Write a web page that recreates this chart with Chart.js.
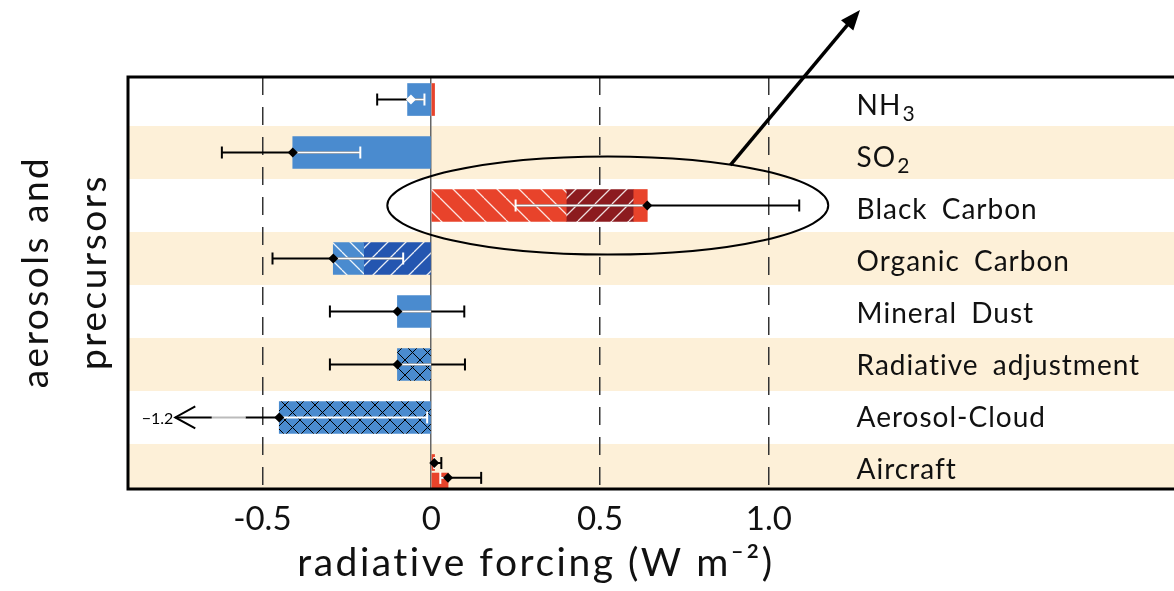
<!DOCTYPE html>
<html>
<head>
<meta charset="utf-8">
<script src="https://cdn.jsdelivr.net/npm/chart.js@4.4.1/dist/chart.umd.min.js"></script>
<style>
  html, body { margin: 0; padding: 0; background: #fff; }
  #wrap { width: 1174px; height: 591px; position: relative; }
</style>
</head>
<body>
<div id="wrap"><canvas id="chart"></canvas></div>
<script>
// rows, top to bottom ("_" marks a subscript)
const categories = ['NH_3', 'SO_2', 'Black Carbon', 'Organic Carbon', 'Mineral Dust', 'Radiative adjustment', 'Aerosol-Cloud', 'Aircraft'];
const xTicks = [-0.5, 0, 0.5, 1.0];
const xTickLabels = ['-0.5', '0', '0.5', '1.0'];
const xTitle = 'radiative forcing (W m\u207B\u00B2)';
const yTitle = ['aerosols and', 'precursors'];

// bar segments as [row position, from, to]  (W m-2)
const solidBlue = [[0, -0.07, 0], [1, -0.41, 0], [4, -0.10, 0]];
const solidRed = [[0, 0, 0.01], [2, 0.60, 0.64]];
const bcLight = [[2, 0, 0.40]];
const bcDark = [[2, 0.40, 0.60]];
const ocLight = [[3, -0.29, -0.20]];
const ocDark = [[3, -0.20, 0]];
const crossBlue = [[5, -0.10, 0], [6, -0.45, 0]];
const aircraftBars = [[6.85, 0, 0.01], [7.2, 0, 0.05]];

// uncertainty ranges: position, best estimate, low, high
const errPos = [0, 1, 2, 3, 4, 5, 6, 6.86, 7.14];
const errBest = [-0.06, -0.41, 0.64, -0.29, -0.10, -0.10, -0.45, 0.009, 0.05];
const errLow = [-0.16, -0.62, 0.25, -0.47, -0.30, -0.30, -1.2, 0.009, 0.027];
const errHigh = [-0.02, -0.21, 1.09, -0.083, 0.098, 0.10, -0.012, 0.03, 0.148];

const FONT = 'Lato, "Open Sans", sans-serif';
const BLUE = '#4a8bcf';
const RED = '#e8432b';

const canvas = document.getElementById('chart');
const baseCtx = canvas.getContext('2d');

function hatch(base, line, dir, step, width) {
    const c = document.createElement('canvas');
    c.width = step; c.height = step;
    const g = c.getContext('2d');
    g.fillStyle = base;
    g.fillRect(0, 0, step, step);
    g.strokeStyle = line;
    g.lineWidth = width;
    g.beginPath();
    for (let k = -1; k <= 1; k++) {
        if (dir.includes('/')) { g.moveTo(k * step, step); g.lineTo(k * step + step, 0); }
        if (dir.includes('\\')) { g.moveTo(k * step, 0); g.lineTo(k * step + step, step); }
    }
    g.stroke();
    return baseCtx.createPattern(c, 'repeat');
}

const toPoints = arr => arr.map(([pos, a, b]) => ({ y: pos, x: [a, b] }));

function barSet(arr, color, thickness) {
    return {
        data: toPoints(arr),
        backgroundColor: color,
        borderWidth: 0,
        barThickness: thickness || 32,
        grouped: false,
    };
}

// pale bands behind every second row
const bands = {
    id: 'bands',
    beforeDraw(chart) {
        const { ctx, chartArea: a, scales: { y } } = chart;
        ctx.save();
        ctx.fillStyle = '#fdf0d8';
        categories.forEach((c, i) => {
            if (i % 2 === 0) return;
            const t = y.getPixelForValue(i - 0.5);
            const b = Math.min(y.getPixelForValue(i + 0.5), a.bottom);
            ctx.fillRect(a.left, t, a.right - a.left, b - t);
        });
        ctx.restore();
    }
};

const errorBars = {
    id: 'errorBars',
    afterDatasetsDraw(chart) {
        const { ctx, scales: { x, y } } = chart;
        const allBars = chart.data.datasets.flatMap(d => d.data);
        ctx.save();
        errPos.forEach((pos, i) => {
            const near = allBars.filter(p => Math.abs(p.y - pos) < 0.2);
            const bMin = Math.min(...near.map(p => p.x[0]));
            const bMax = Math.max(...near.map(p => p.x[1]));
            const py = y.getPixelForValue(pos);
            const lo = errLow[i], hi = errHigh[i], best = errBest[i];
            ctx.lineWidth = 2;

            const seg = (a, b, color) => {
                ctx.strokeStyle = color;
                ctx.beginPath();
                ctx.moveTo(x.getPixelForValue(a), py);
                ctx.lineTo(x.getPixelForValue(b), py);
                ctx.stroke();
            };
            const cap = (v, color) => {
                const px = x.getPixelForValue(v);
                ctx.strokeStyle = color;
                ctx.beginPath();
                ctx.moveTo(px, py - 6);
                ctx.lineTo(px, py + 6);
                ctx.stroke();
            };

            if (lo < x.min) {
                // range runs off the axis: arrow with value
                const tip = x.min + 0.14;
                seg(best, -0.55, '#000');
                seg(-0.55, -0.65, '#bbb');
                seg(-0.65, tip, '#000');
                const tx = x.getPixelForValue(tip);
                ctx.strokeStyle = '#000';
                ctx.beginPath();
                ctx.moveTo(tx + 20, py - 11);
                ctx.lineTo(tx, py);
                ctx.lineTo(tx + 20, py + 11);
                ctx.stroke();
                ctx.fillStyle = '#000';
                ctx.font = '16px ' + FONT;
                ctx.textAlign = 'right';
                ctx.textBaseline = 'middle';
                ctx.fillText('\u22121.2', tx - 2, py + 1);
            } else {
                seg(lo, hi, '#000');
                cap(lo, lo >= bMin && lo <= bMax ? '#fff' : '#000');
            }
            const wA = Math.max(lo, bMin), wB = Math.min(hi, bMax);
            if (wB > wA) seg(wA, wB, '#fff');
            cap(hi, hi >= bMin && hi <= bMax ? '#fff' : '#000');

            const inside = best > bMin + 0.005 && best < bMax - 0.005;
            const bx = x.getPixelForValue(best);
            ctx.fillStyle = inside ? '#fff' : '#000';
            ctx.beginPath();
            ctx.moveTo(bx - 5, py);
            ctx.lineTo(bx, py - 5);
            ctx.lineTo(bx + 5, py);
            ctx.lineTo(bx, py + 5);
            ctx.closePath();
            ctx.fill();
        });
        ctx.restore();
    }
};

const decorations = {
    id: 'decorations',
    afterDraw(chart) {
        const { ctx, chartArea: a, scales: { x, y } } = chart;
        ctx.save();

        // frame
        ctx.strokeStyle = '#000';
        ctx.lineWidth = 3;
        ctx.beginPath();
        ctx.moveTo(chart.width, a.top);
        ctx.lineTo(a.left, a.top);
        ctx.lineTo(a.left, a.bottom);
        ctx.lineTo(chart.width, a.bottom);
        ctx.stroke();

        // row labels
        ctx.fillStyle = '#111';
        ctx.textBaseline = 'middle';
        ctx.textAlign = 'left';
        ctx.letterSpacing = '1px';
        ctx.wordSpacing = '6px';
        const lx = x.getPixelForValue(1.26);
        const rowH = (a.bottom - a.top) / categories.length;
        categories.forEach((c, i) => {
            const ly = a.top + (i + 0.5) * rowH + 3 + i * 0.5;
            const [main, sub] = c.split('_');
            ctx.font = '28px ' + FONT;
            ctx.fillText(main, lx, ly);
            if (sub) {
                const w = ctx.measureText(main).width;
                ctx.font = '21px ' + FONT;
                ctx.fillText(sub, lx + w + 1, ly + 8);
            }
        });
        ctx.wordSpacing = '0px';

        // axis titles
        ctx.textBaseline = 'alphabetic';
        ctx.textAlign = 'center';
        ctx.letterSpacing = '2.5px';
        ctx.font = '39px ' + FONT;
        ctx.fillText(xTitle, 536, 576);

        ctx.save();
        ctx.translate(0, 272);
        ctx.rotate(-Math.PI / 2);
        ctx.font = '37px ' + FONT;
        ctx.fillText(yTitle[0], 0, 48);
        ctx.fillText(yTitle[1], 0, 106);
        ctx.restore();
        ctx.letterSpacing = '0px';

        // ellipse around black carbon and pointer
        ctx.strokeStyle = '#000';
        ctx.lineWidth = 2;
        const cx = x.getPixelForValue(0.523), cy = y.getPixelForValue(2);
        const rx = x.getPixelForValue(0.523 + 0.653) - cx;
        const ry = y.getPixelForValue(2 + 0.925) - cy;
        ctx.beginPath();
        ctx.ellipse(cx, cy, rx, ry, 0, 0, Math.PI * 2);
        ctx.stroke();

        const x0 = x.getPixelForValue(0.886), y0 = y.getPixelForValue(1.236);
        const x1 = x.getPixelForValue(1.27), y1 = y.getPixelForValue(-1.69);
        const ang = Math.atan2(y1 - y0, x1 - x0);
        ctx.lineWidth = 3.5;
        ctx.beginPath();
        ctx.moveTo(x0, y0);
        ctx.lineTo(x1 - 14 * Math.cos(ang), y1 - 14 * Math.sin(ang));
        ctx.stroke();
        ctx.fillStyle = '#000';
        ctx.beginPath();
        ctx.moveTo(x1, y1);
        ctx.lineTo(x1 - 20 * Math.cos(ang) + 8 * Math.sin(ang), y1 - 20 * Math.sin(ang) - 8 * Math.cos(ang));
        ctx.lineTo(x1 - 20 * Math.cos(ang) - 8 * Math.sin(ang), y1 - 20 * Math.sin(ang) + 8 * Math.cos(ang));
        ctx.closePath();
        ctx.fill();

        ctx.restore();
    }
};

const chart = new Chart(canvas, {
    type: 'bar',
    data: {
        datasets: [
            barSet(solidBlue, BLUE),
            barSet(solidRed, RED),
            barSet(bcLight, hatch(RED, 'rgba(255,255,255,0.85)', '\\', 22, 1.3)),
            barSet(bcDark, hatch('#8c1b1f', 'rgba(255,255,255,0.85)', '/', 17, 1.3)),
            barSet(ocLight, hatch(BLUE, 'rgba(255,255,255,0.9)', '\\', 18, 1.3)),
            barSet(ocDark, hatch('#2456b0', 'rgba(255,255,255,0.9)', '/', 18, 1.3)),
            barSet(crossBlue, hatch(BLUE, '#000', '/\\', 15, 1)),
            barSet(aircraftBars, RED, 16),
        ]
    },
    options: {
        indexAxis: 'y',
        responsive: true,
        maintainAspectRatio: false,
        animation: false,
        devicePixelRatio: 1,
        layout: { padding: { left: 128, top: 77, right: 0, bottom: 40.4 } },
        scales: {
            y: {
                type: 'linear',
                reverse: true,
                min: -0.425,
                max: 7.35,
                offset: false,
                display: false,
            },
            x: {
                type: 'linear',
                min: -0.898,
                max: 2.2,
                afterBuildTicks: scale => { scale.ticks = xTicks.map(v => ({ value: v })); },
                border: { display: false, dash: ctx => (ctx.tick && ctx.tick.value === 0) ? [] : [18, 12] },
                grid: {
                    drawTicks: false,
                    lineWidth: 1.5,
                    color: ctx => (ctx.tick && ctx.tick.value === 0) ? '#666' : '#333',
                },
                ticks: {
                    padding: 11,
                    color: '#111',
                    font: { family: FONT, size: 33 },
                    callback: (v, i) => xTickLabels[i],
                },
                title: { display: false }
            }
        },
        plugins: {
            legend: { display: false },
            tooltip: { enabled: false },
        }
    },
    plugins: [bands, errorBars, decorations],
});
</script>
</body>
</html>
